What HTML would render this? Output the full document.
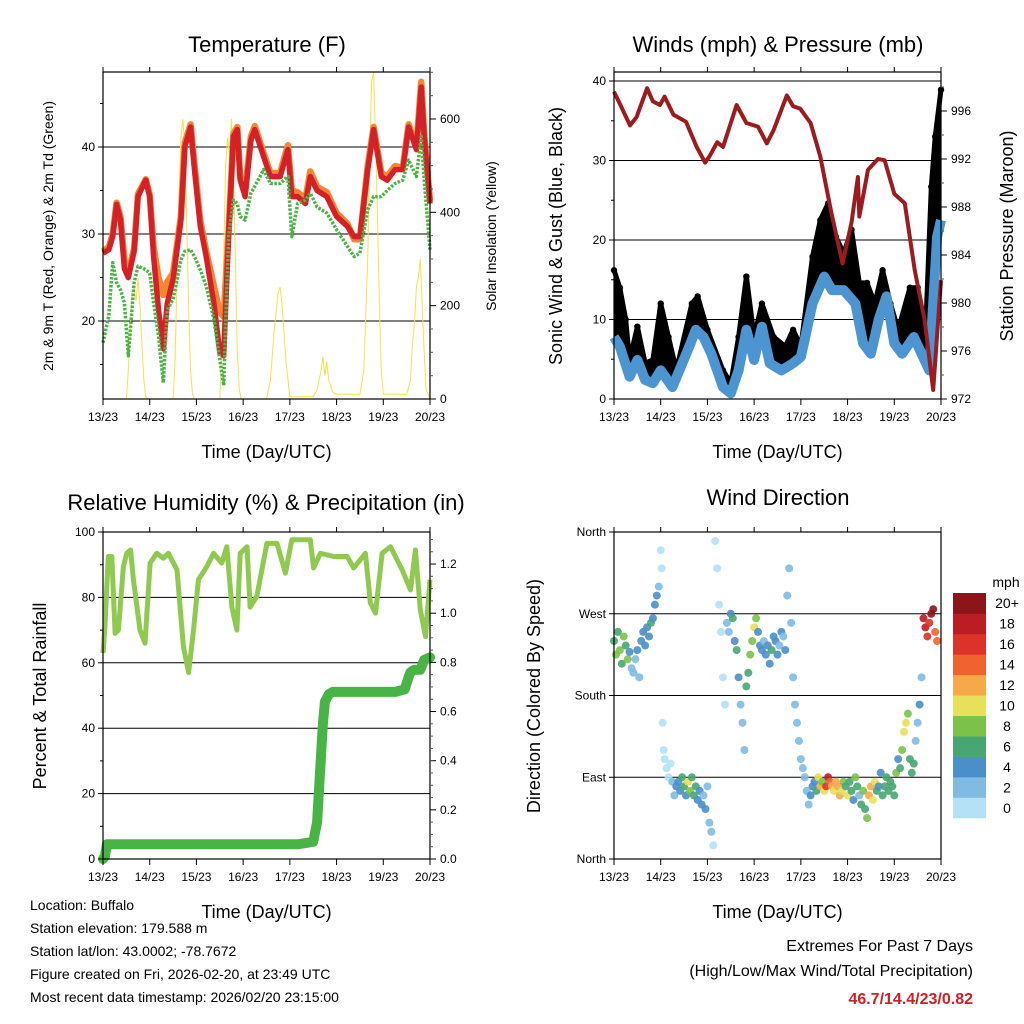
<!DOCTYPE html>
<html><head><meta charset="utf-8"><style>
body{margin:0;background:#fff;}
svg{display:block;font-family:"Liberation Sans",sans-serif;}
</style></head><body>
<svg id="c" width="1024" height="1024" viewBox="0 0 1024 1024"></svg>
<script>
// ---------- DATA ----------
const dayLabels=["13/23","14/23","15/23","16/23","17/23","18/23","19/23","20/23"];
const tHours=[0,3,5,7,9,11,13,16,18,22,24,26,28.5,31,33,36,40,42,45,47,50,53,57,60,62,64.5,67,69,70.5,73,76,78,82.5,86,91,95,97,100,104,106.5,110,115,120,125.5,129,132,136,139,143,146,150,154,157,161,163.5,165,168];
const temp2m=[27.8,28.2,29.7,33.4,31.6,26,25,28,34.3,36.2,34.3,27.4,21.3,16.8,22,24.8,31.6,40,42.3,37.4,30.9,27.4,22,16.4,16,29.7,41.2,42,36.2,34.3,40.8,42,38.9,36.6,36.6,39.7,34.3,34.3,33.5,36.6,35,34.3,32,30.9,29.7,29.7,37.4,42,36.6,36.2,37.4,37.4,42.3,39.7,46.9,41.2,33.5];
const temp9m=[28,28.5,30,33.6,32,27,25.5,28.3,34.6,36.3,34.5,28.5,25,23,24.5,25.5,32,40.5,42.6,38,31.5,28,24,21,20.5,30,41.5,42.3,36.5,34.8,41.2,42.4,39.3,37,37,40.2,35,34.8,34,37.2,35.4,34.8,32.4,31.2,29.4,29.4,37.8,42.3,37,36.6,37.8,37.6,42.6,40,47.5,41.5,33.8];
const dewpt=[17.5,20.6,26.7,24.4,23.6,22.1,16,24.4,26.3,25.9,25.5,22.1,18.3,12.9,21.3,22.5,27,28,28.2,27.4,25.9,24,20.2,15.6,12.6,29.7,33.9,33.5,32,31.6,34.7,35.5,37.4,35.8,35.8,36.6,29.7,33.5,33.9,34.7,33.1,32.4,30.5,28.6,27.4,27.8,32.8,34.3,34.3,35,35.8,36.2,38.5,36.6,41.2,36.2,28.2];
const solarHours=[0,12,13,14,15,16,17,18,19,20,21,22,23,36,37,38,39,40,41,42,43,44,45,46,47,60,61,62,63,64,65,66,67,68,69,70,71,84,86,88,90,91,92,94,96,108,110,112,113,114,115,116,118,120,132,134,136,137,138,139,140,141,142,143,144,156,158,159,160,161,162,163,164,165,166,168];
const solar=[0,0,60,150,230,240,210,260,200,120,40,5,0,0,80,250,420,560,600,540,380,200,60,10,0,0,100,300,500,560,520,600,480,300,100,20,0,0,40,150,230,240,200,80,5,5,20,60,90,50,80,40,15,10,10,60,300,520,680,700,560,400,200,60,10,10,40,120,160,240,260,300,200,100,20,0];
const pHours=[0,3,8.2,11.6,17,20,23.6,26,30.5,37,42.5,46.8,49,53,56,63,68,74,78.5,82,88.8,92,95.6,101,106,111.4,117.4,122,125.3,126,130.5,135.6,139,144,149.4,154.5,159.6,164,168];
const pressure=[997.6,996.6,994.8,995.5,997.9,996.8,996.5,997.2,995.7,995.1,993,991.7,992.2,993.4,993,996.5,995,994.7,993.3,994.4,997.3,996.4,996.2,995,992.2,987.75,983.3,986.7,990.5,987.2,991.1,992,991.9,989.1,988.3,982.75,978.6,972.75,981.9];
const wHours=[0,3,8,12,16,20,24,30,38,42,46,50,56,60,64,68,72,76,80,86,92,96,102,108,112,118,124,128,132,136,140,144,148,154,158,162,164,166,168];
const windSpd=[7.8,6.6,2.8,4.9,2.4,2,3.6,1.5,6.2,8.7,7.8,5.7,1.5,0.7,3.6,8.7,4.9,9.1,4.5,3.6,4.5,5.3,12,15.4,13.7,13.7,12,7,5.7,10,12.9,7,5.7,7.8,5.7,3.6,12,20.4,22.5];
const gHours=[0,3,6,8,12,16,20,24,28,32,40,43,48,56,60,64,68,72,76,82,88,92,96,102,106,110,114,118,122,126,130,134,138,142,146,152,156,160,163,165,168];
const gust=[16.2,14,10,4.9,9.1,4.5,4.9,12,7.8,3.6,12,12.9,8.7,3.6,2,7.8,15.4,7.8,12,7.8,6.6,8.7,6.6,17.9,22.5,24.6,20.4,18.3,21.3,14.6,14.6,12,16.2,12,8.7,14,14,7.8,26.7,33,38.9];
const rhHours=[0,1,2.7,4.5,6.2,7.9,10.5,12.2,14.2,15.6,19,21.6,24.2,27.6,31,33.6,38,41.3,44,46.5,49,53.3,56.8,61,63.6,66.2,68.8,70.5,74,75.6,79,84.2,89.4,93.7,97,106.5,108.2,111.7,118.5,125.4,128.8,134.8,137.4,140,143.4,147.7,153.7,158,160.5,163,165.7,168];
const rh=[63,71,92.5,92.5,69,70,89.4,93.5,94.5,85.4,70,66,90.5,93.5,92,93.5,88.4,65,57,70,85.4,89.4,93.5,90.5,95.5,77,70,93.5,95.5,77,80.3,96.5,96.5,87.4,97.6,97.6,89,93.5,92.5,92.5,89,93.5,78.3,75.2,93.5,95.5,88.4,82.3,94.5,76.2,68,85.4];
const prHours=[0,1,2,20,60,100,108,110,112,113,114,116,118,130,150,155,157,158,160,163,165,168];
const precip=[0,0.01,0.06,0.06,0.06,0.06,0.07,0.15,0.42,0.55,0.64,0.67,0.68,0.68,0.68,0.69,0.74,0.76,0.77,0.77,0.81,0.82];
const dHours=[0,1,2,3,4,5,6,7,8,9,10,11,12,13,14,15,16,17,18,19,20,21,22,23,24,24.5,25,25.5,26,27,28,29,30,31,32,33,34,35,36,37,38,39,40,41,42,43,44,45,46,47,48,49,50,51,52,53,54,55,56,57,58,59,60,61,62,63,64,65,66,67,68,69,70,71,72,73,74,75,76,77,78,79,80,81,82,83,84,85,86,87,88,89,90,91,92,93,94,95,96,97,98,99,100,101,102,103,104,105,106,107,108,109,110,111,112,113,114,115,116,117,118,119,120,121,122,123,124,125,126,127,128,129,130,131,132,133,134,135,136,137,138,139,140,141,142,143,144,145,146,147,148,149,150,151,152,153,154,155,156,157,158,159,160,161,162,163,164,165,166];
const dirs=[240,225,250,230,215,245,235,220,228,210,205,220,230,200,240,250,235,255,245,260,265,280,290,300,340,320,150,120,110,100,90,105,85,70,80,85,75,90,80,70,85,75,90,70,80,65,75,60,70,55,80,40,30,15,350,320,280,250,200,170,260,250,270,265,240,230,200,170,150,120,190,205,225,240,255,265,250,235,230,240,225,235,215,230,245,240,225,235,250,245,230,290,320,260,200,170,150,130,110,100,90,75,60,70,80,85,75,90,80,85,75,80,90,85,80,75,85,80,70,75,85,80,70,85,75,65,90,80,70,60,75,55,45,70,80,65,85,75,80,95,70,80,90,75,85,80,70,95,110,100,120,140,150,160,110,95,105,130,150,170,200,265,255,245,260,270,275,250,240];
const dirSpd=[7,8,6,9,7,8,6,9,4,3,2,3,4,2,4,5,4,4,5,6,5,4,4,3,1,1,1,1,0,1,1,1,2,3,4,5,4,6,7,5,10,8,7,6,6,5,4,4,3,4,3,2,2,1,1,1,1,1,1,1,2,3,5,7,4,6,4,3,2,2,6,7,8,9,10,8,5,4,4,3,5,4,4,6,4,5,4,3,4,3,4,3,2,2,2,3,2,2,2,3,3,3,2,4,4,5,6,10,12,8,11,16,18,14,12,10,12,13,12,11,8,6,10,7,6,4,8,6,3,6,9,7,8,12,13,10,11,6,4,5,6,6,7,6,6,6,7,9,5,7,9,10,10,8,7,6,7,3,3,4,3,19,18,16,17,20,21,14,15];
const pressTicks=[972,976,980,984,988,992,996];
const solarTicks=[0,200,400,600];
const precipTicks=[0,0.2,0.4,0.6,0.8,1.0,1.2];
const dirTickLabels=["North","East","South","West","North"];
const legendLabels=["0","2","4","6","8","10","12","14","16","18","20+"];
const legendColors=["#b4e1f6","#80bbe4","#4a8fc8","#48a672","#7cc24a","#e8e05a","#f7a94a","#f0632e","#dc3328","#bc1c24","#8d1419"];

// ---------- HELPERS ----------
const NS="http://www.w3.org/2000/svg";
const svg=document.getElementById('c');
function mk(tag,parent,attrs){const e=document.createElementNS(NS,tag);for(const k in attrs)e.setAttribute(k,attrs[k]);parent.appendChild(e);return e;}
function txt(parent,x,y,s,size,anchor,extra){const t=mk('text',parent,Object.assign({x:x,y:y,'font-size':size,'text-anchor':anchor||'middle',fill:'#000'},extra||{}));t.textContent=s;return t;}
const W=327,H=327;
function panel(L,T){return {L:L,T:T,R:L+W,B:T+H,x:h=>L+h*W/168};}
function pts(xs,ys,fx,fy){return xs.map((v,i)=>fx(v).toFixed(1)+','+fy(ys[i]).toFixed(1)).join(' ');}
function xAxis(p,g){
  for(let i=0;i<8;i++){const x=p.x(i*24);
    const tk=mk('line',g,{x1:x,x2:x,y1:p.B,y2:p.B+6,stroke:'#000','stroke-width':1});
    
    mk('line',g,{x1:x,x2:x,y1:p.T,y2:p.T-5,stroke:'#000','stroke-width':1});
    const t=txt(g,x,p.B+22,dayLabels[i],12);
    }
  const at=txt(g,(p.L+p.R)/2,p.B+59,'Time (Day/UTC)',18);
  
}
function frame(p,g){const r=mk('rect',g,{x:p.L,y:p.T,width:W,height:H,fill:'none',stroke:'#000','stroke-width':1.2});
  }
function grid(p,g,y){const l=mk('line',g,{x1:p.L,x2:p.R,y1:y,y2:y,stroke:'#000','stroke-width':1});
  }
function leftTick(p,g,y,label,size){mk('line',g,{x1:p.L-5,x2:p.L,y1:y,y2:y,stroke:'#000'});
  const t=txt(g,p.L-8,y+4,label,size||12,'end');}
function rightTick(p,g,y,label){mk('line',g,{x1:p.R,x2:p.R+6,y1:y,y2:y,stroke:'#000'});
  const t=txt(g,p.R+10,y+4,label,12,'start');}
function minorRight(p,g,y){mk('line',g,{x1:p.R,x2:p.R+3,y1:y,y2:y,stroke:'#555'});}
function vtitle(g,x,y,s,size,name){const t=txt(g,x,y,s,size,'middle',{transform:'rotate(-90 '+x+' '+y+')'});
  }
function speedColor(s){let i=Math.floor(s/2);if(i>10)i=10;if(i<0)i=0;return legendColors[i];}

// ---------- PANEL 1: TEMPERATURE ----------
{const p=panel(103,72);const g=mk('g',svg,{});
 
 const ty=v=>321-(v-20)*8.7, sy=v=>399-v*0.4667;
 [20,30,40].forEach(v=>grid(p,g,ty(v)));
 const so=mk('polyline',g,{points:pts(solarHours,solar,p.x,sy),fill:'none',stroke:'#f6e04c','stroke-width':1});
 
 const o=mk('polyline',g,{points:pts(tHours,temp9m,p.x,ty),fill:'none',stroke:'#f58634','stroke-width':6.5,'stroke-linejoin':'round'});
 
 const r=mk('polyline',g,{points:pts(tHours,temp2m,p.x,ty),fill:'none',stroke:'#d42027','stroke-width':5.5,'stroke-linejoin':'round'});
 
 const d=mk('polyline',g,{points:pts(tHours,dewpt,p.x,ty),fill:'none',stroke:'#4cb447','stroke-width':3.5,'stroke-dasharray':'2.5 1.5','stroke-linejoin':'round'});
 
 frame(p,g);
 [20,30,40].forEach(v=>leftTick(p,g,ty(v),String(v)));
 [15,25,35,45].forEach(v=>mk('line',g,{x1:p.L-3,x2:p.L,y1:ty(v),y2:ty(v),stroke:'#000'}));
 solarTicks.forEach(v=>rightTick(p,g,sy(v),String(v)));
 for(let v=50;v<=700;v+=50){if(v%200)minorRight(p,g,sy(v));}
 xAxis(p,g);
 const tt=txt(g,267,52,'Temperature (F)',22);
 vtitle(g,53,236,'2m & 9m T (Red, Orange) & 2m Td (Green)',14,'y-axis-title');
 vtitle(g,496,236,'Solar Insolation (Yellow)',14,'y2-axis-title');
}
// ---------- PANEL 2: WINDS ----------
{const p=panel(614,72);const g=mk('g',svg,{});
 
 const wy=v=>399-v*7.95, py=v=>399-(v-972)*12;
 [10,20,30,40].forEach(v=>grid(p,g,wy(v)));
 const top=gHours.map((h,i)=>p.x(h).toFixed(1)+','+wy(gust[i]).toFixed(1));
 const bot=wHours.slice().reverse().map((h,i)=>{const j=wHours.length-1-i;return p.x(h).toFixed(1)+','+wy(windSpd[j]).toFixed(1);});
 const ga=mk('polygon',g,{points:top.concat(bot).join(' '),fill:'#000'});
 
 gHours.forEach((h,i)=>{const c=mk('circle',g,{cx:p.x(h),cy:wy(gust[i]),r:3.2,fill:'#000'});
   });
 const gl=mk('polyline',g,{points:pts(gHours,gust,p.x,wy),fill:'none',stroke:'#000','stroke-width':5,'stroke-linejoin':'round'});
 
 const bl=mk('polyline',g,{points:pts(wHours,windSpd,p.x,wy),fill:'none',stroke:'#4d95d1','stroke-width':10,'stroke-linejoin':'round'});
 
 const pl=mk('polyline',g,{points:pts(pHours,pressure,p.x,py),fill:'none',stroke:'#9b1b1e','stroke-width':4,'stroke-linejoin':'round'});
 
 frame(p,g);
 [0,10,20,30,40].forEach(v=>leftTick(p,g,wy(v),String(v)));
 [5,15,25,35].forEach(v=>mk('line',g,{x1:p.L-3,x2:p.L,y1:wy(v),y2:wy(v),stroke:'#000'}));
 pressTicks.forEach(v=>rightTick(p,g,py(v),String(v)));
 for(let v=974;v<=998;v+=2){if(v%4)minorRight(p,g,py(v));}
 xAxis(p,g);
 const tt=txt(g,778,52,'Winds (mph) & Pressure (mb)',22);
 vtitle(g,562,236,'Sonic Wind & Gust (Blue, Black)',18,'y-axis-title');
 vtitle(g,1013,236,'Station Pressure (Maroon)',18,'y2-axis-title');
}
// ---------- PANEL 3: RH ----------
{const p=panel(103,532);const g=mk('g',svg,{});
 
 const ry=v=>859-v*3.27, qy=v=>859-v*245.8;
 [20,40,60,80].forEach(v=>grid(p,g,ry(v)));
 const rl=mk('polyline',g,{points:pts(rhHours,rh,p.x,ry),fill:'none',stroke:'#8fc94f','stroke-width':5,'stroke-linejoin':'round'});
 
 const ql=mk('polyline',g,{points:pts(prHours,precip,p.x,qy),fill:'none',stroke:'#48b446','stroke-width':10,'stroke-linejoin':'round','stroke-linecap':'round'});
 
 frame(p,g);
 [0,20,40,60,80,100].forEach(v=>leftTick(p,g,ry(v),String(v)));
 [10,30,50,70,90].forEach(v=>mk('line',g,{x1:p.L-3,x2:p.L,y1:ry(v),y2:ry(v),stroke:'#000'}));
 precipTicks.forEach(v=>rightTick(p,g,qy(v),v.toFixed(1)));
 for(let v=0.05;v<1.33;v+=0.05){if(Math.abs((v*10)%2)>0.05)minorRight(p,g,qy(v));}
 xAxis(p,g);
 const tt=txt(g,266,510,'Relative Humidity (%) & Precipitation (in)',22);
 vtitle(g,46,696,'Percent & Total Rainfall',18,'y-axis-title');
}
// ---------- PANEL 4: DIRECTION ----------
{const p=panel(614,532);const g=mk('g',svg,{});
 
 const dy=v=>859-v*327/360;
 [90,180,270].forEach(v=>grid(p,g,dy(v)));
 dHours.forEach((h,i)=>{const c=mk('circle',g,{cx:p.x(h),cy:dy(dirs[i]),r:4,fill:speedColor(dirSpd[i]),'fill-opacity':0.9});
   });
 frame(p,g);
 dirTickLabels.forEach((s,i)=>leftTick(p,g,dy(i*90),s));
 xAxis(p,g);
 const tt=txt(g,778,505,'Wind Direction',22);
 vtitle(g,540,696,'Direction (Colored By Speed)',18,'y-axis-title');
 const lg=mk('g',g,{});
 const mt=txt(lg,1006,587,'mph',14);
 const bh=225/11;
 legendColors.forEach((c,i)=>{const y=818-(i+1)*bh;
   const r=mk('rect',lg,{x:953,y:y,width:33,height:bh+0.3,fill:c});
   
   const t=txt(lg,1007,y+bh/2+5,legendLabels[i],14);});
}
// ---------- FOOTER ----------
{const g=mk('g',svg,{});
 ["Location: Buffalo","Station elevation: 179.588 m","Station lat/lon: 43.0002; -78.7672","Figure created on Fri, 2026-02-20, at 23:49 UTC","Most recent data timestamp: 2026/02/20 23:15:00"].forEach((s,i)=>{
   const t=txt(g,30,910+i*23,s,14,'start');});
 const a=txt(g,973,951,'Extremes For Past 7 Days',16,'end');
 const b=txt(g,973,976,'(High/Low/Max Wind/Total Precipitation)',16,'end');
 const c=txt(g,973,1004,'46.7/14.4/23/0.82',16,'end',{fill:'#cc2027','font-weight':'bold'});
}
</script>
</body></html>
